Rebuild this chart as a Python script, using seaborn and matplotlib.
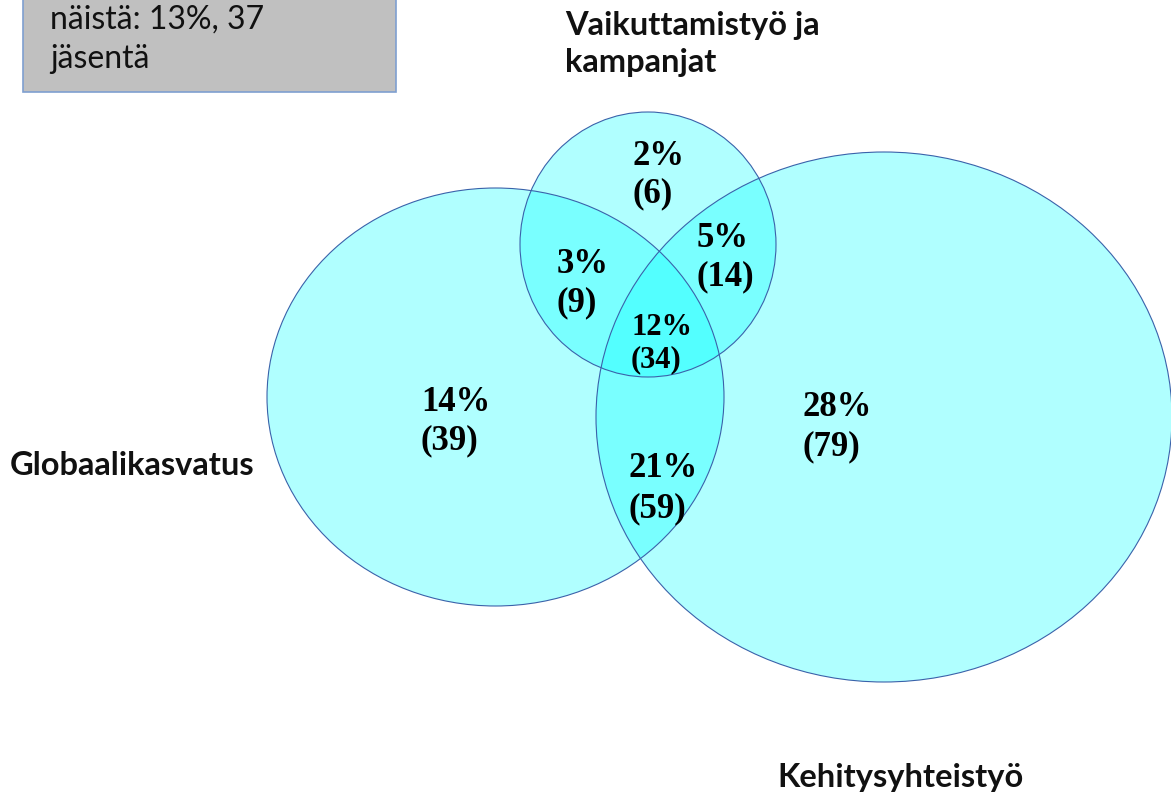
import matplotlib
matplotlib.use("Agg")
import matplotlib.pyplot as plt
from matplotlib.patches import Ellipse, Rectangle
import seaborn as sns

# set names
set_names = ["Globaalikasvatus", "Vaikuttamistyö ja\nkampanjat", "Kehitysyhteistyö"]

# region values: only G, only V, only K, G&V, V&K, G&K, all three
region_keys = ["G", "V", "K", "GV", "VK", "GK", "GVK"]
region_pct = [14, 2, 28, 3, 5, 21, 12]
region_n = [39, 6, 79, 9, 14, 59, 34]

note_text = "näistä: 13%, 37\njäsentä"

sns.set_theme(style="white")
plt.rcParams["font.family"] = ["Lato", "DejaVu Sans"]

W, H = 1171, 792
fig = plt.figure(figsize=(W / 100, H / 100), dpi=100)
ax = fig.add_axes([0, 0, 1, 1])
ax.set_xlim(0, W)
ax.set_ylim(H, 0)
ax.axis("off")

# ellipses in pixel space (center x, center y, width, height)
shapes = {
    "G": (495.5, 397, 457, 418),
    "V": (648, 244.5, 256, 265),
    "K": (884, 417, 576, 530),
}
fill = (0.0, 1.0, 1.0, 0.31)
edge = "#3a62aa"
for k in ["G", "V", "K"]:
    cx, cy, w, h = shapes[k]
    ax.add_patch(Ellipse((cx, cy), w, h, facecolor=fill, edgecolor="none", zorder=1))
for k in ["G", "V", "K"]:
    cx, cy, w, h = shapes[k]
    ax.add_patch(Ellipse((cx, cy), w, h, fill=False, edgecolor=edge, lw=0.8, zorder=2))

# region label positions (left x, first baseline, line gap, font size)
label_pos = {
    "G": (421, 411, 38, 25),
    "V": (633, 165, 37, 25),
    "K": (802, 416, 39, 25),
    "GV": (557, 273, 38, 25),
    "VK": (697, 247, 38, 25),
    "GK": (628, 477, 40, 25),
    "GVK": (631, 335, 32, 22),
}
for key, pct, n in zip(region_keys, region_pct, region_n):
    x, y, gap, fs = label_pos[key]
    kw = dict(fontsize=fs, fontweight="bold", family="Liberation Serif",
              ha="left", va="baseline", color="black", zorder=3)
    ax.text(x, y, f"{pct}%", **kw)
    ax.text(x, y + gap, f"({n})", **kw)

# set names
name_kw = dict(fontsize=23.5, fontweight="bold", color="#111111", va="baseline", ha="left")
ax.text(10, 475, set_names[0], **name_kw)
ax.text(565, 35, set_names[1].split("\n")[0], **name_kw)
ax.text(565, 72, set_names[1].split("\n")[1], **name_kw)
ax.text(777, 787, set_names[2], **name_kw)

# note box at top left
ax.add_patch(Rectangle((23, -10), 373, 102, facecolor="#c0c0c0", edgecolor="#7f9fd0",
                       lw=1.2, zorder=2))
lines = note_text.split("\n")
ax.text(50, 29, lines[0], fontsize=23, color="#111111", va="baseline", ha="left", zorder=3)
ax.text(50, 68, lines[1], fontsize=23, color="#111111", va="baseline", ha="left", zorder=3)

fig.savefig("out.png", dpi=100)
